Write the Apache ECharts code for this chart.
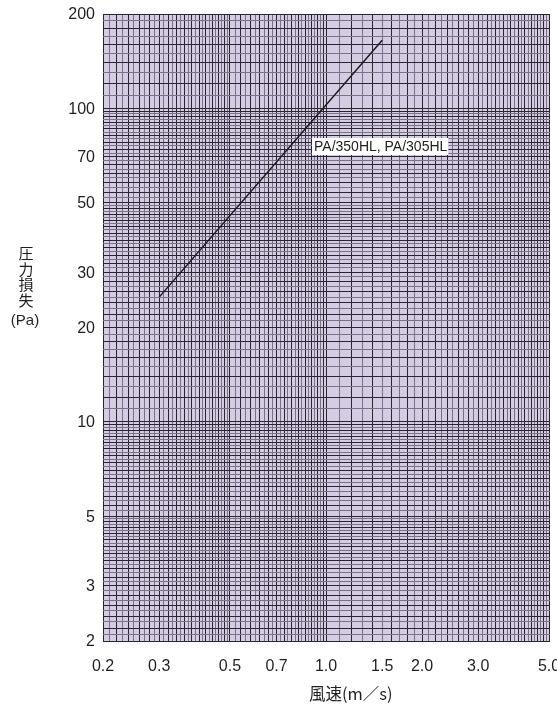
<!DOCTYPE html>
<html>
<head>
<meta charset="utf-8">
<script src="https://cdn.jsdelivr.net/npm/echarts@6/dist/echarts.min.js"></script>
<style>
  html, body { margin: 0; padding: 0; background: #ffffff; }
  #chart { width: 557px; height: 708px; }
</style>
</head>
<body>
<div id="chart"></div>
<script>
// Pressure loss vs. air velocity (log-log)
const velocity = [0.3, 1.5];          // 風速 (m/s)
const pressureLoss = [25, 165];       // 圧力損失 (Pa)
const seriesName = 'PA/350HL, PA/305HL';

const xTicks = [0.2, 0.3, 0.5, 0.7, 1.0, 1.5, 2.0, 3.0, 5.0];
const xTickLabels = ['0.2', '0.3', '0.5', '0.7', '1.0', '1.5', '2.0', '3.0', '5.0'];
const yTicks = [2, 3, 5, 10, 20, 30, 50, 70, 100, 200];
const yTickLabels = ['2', '3', '5', '10', '20', '30', '50', '70', '100', '200'];

const xRange = [0.2, 5.0];
const yRange = [2, 200];

// Log-paper rulings within one decade, in tenths: [from, to, step]
const rulings = [[10, 50, 1], [50, 100, 2]];

function paperLines(lo, hi) {
  const lines = [];
  const e0 = Math.floor(Math.log10(lo) + 1e-9);
  const e1 = Math.ceil(Math.log10(hi) - 1e-9);
  for (let e = e0; e <= e1; e++) {
    const d = Math.pow(10, e);
    let idx = 0;
    for (const [a, b, s] of rulings) {
      for (let r = a; r < b; r += s) {
        const v = r / 10 * d;
        if (v >= lo - 1e-9 && v <= hi + 1e-9) {
          lines.push({ v: v, dark: idx % 2 === 0 });
        }
        idx++;
      }
    }
  }
  lines.push({ v: hi, dark: true });
  return lines;
}

const xLines = paperLines(xRange[0], xRange[1]);
const yLines = paperLines(yRange[0], yRange[1]);

const DARK = '#2a2530';
const LIGHT = '#7a7386';
const TEXT = '#231f20';
const FONT = '"Liberation Sans", Arial, sans-serif';

const chart = echarts.init(document.getElementById('chart'), null, { renderer: 'canvas' });

function crisp(p) { return Math.round(p - 0.5) + 0.5; }

chart.setOption({
  animation: false,
  backgroundColor: '#ffffff',
  grid: { left: 103, right: 8, top: 14, bottom: 67, show: true, backgroundColor: '#d3cce3', borderWidth: 0 },
  xAxis: {
    type: 'log', logBase: 10, min: xRange[0], max: xRange[1],
    axisLine: { show: false }, axisTick: { show: false }, axisLabel: { show: false },
    splitLine: { show: false }, minorSplitLine: { show: false }
  },
  yAxis: {
    type: 'log', logBase: 10, min: yRange[0], max: yRange[1],
    axisLine: { show: false }, axisTick: { show: false }, axisLabel: { show: false },
    splitLine: { show: false }, minorSplitLine: { show: false }
  },
  series: [
    {
      // graph-paper rulings and tick labels
      type: 'custom',
      silent: true,
      z: 1,
      data: [[1, 10]],
      renderItem: function (params, api) {
        const children = [];
        const left = api.coord([xRange[0], yRange[0]])[0];
        const right = api.coord([xRange[1], yRange[0]])[0];
        const bottom = api.coord([xRange[0], yRange[0]])[1];
        const top = api.coord([xRange[0], yRange[1]])[1];
        const order = (arr) => arr.filter(l => !l.dark).concat(arr.filter(l => l.dark));
        order(xLines).forEach(function (l) {
          const x = crisp(api.coord([l.v, yRange[0]])[0]);
          children.push({
            type: 'line',
            shape: { x1: x, y1: Math.round(top), x2: x, y2: Math.round(bottom) + 1 },
            style: { stroke: l.dark ? DARK : LIGHT, lineWidth: 1 }
          });
        });
        order(yLines).forEach(function (l) {
          const y = crisp(api.coord([xRange[0], l.v])[1]);
          children.push({
            type: 'line',
            shape: { x1: Math.round(left), y1: y, x2: Math.round(right) + 1, y2: y },
            style: { stroke: l.dark ? DARK : LIGHT, lineWidth: 1 }
          });
        });
        xTicks.forEach(function (v, i) {
          const x = api.coord([v, yRange[0]])[0];
          children.push({
            type: 'text',
            style: { text: xTickLabels[i], x: x, y: bottom + 26, align: 'center', verticalAlign: 'middle',
                     font: '16px ' + FONT, fill: TEXT }
          });
        });
        yTicks.forEach(function (v, i) {
          const y = api.coord([xRange[0], v])[1];
          children.push({
            type: 'text',
            style: { text: yTickLabels[i], x: left - 8, y: y + 1, align: 'right', verticalAlign: 'middle',
                     font: '16px ' + FONT, fill: TEXT }
          });
        });
        return { type: 'group', children: children };
      }
    },
    {
      name: seriesName,
      type: 'line',
      z: 5,
      symbol: 'none',
      lineStyle: { color: '#1c1a1e', width: 1.5 },
      data: velocity.map((v, i) => [v, pressureLoss[i]])
    }
  ],
  graphic: [
    {
      type: 'text', left: 312, top: 138, z: 10,
      style: { text: seriesName, font: '14px ' + FONT, fill: TEXT,
               backgroundColor: '#ffffff', padding: [2, 1, 1, 2] }
    },
    {
      type: 'text', left: 309, top: 685, z: 10,
      style: { text: '風速(m／s)', font: '16.5px "Noto Sans CJK JP", sans-serif', fill: TEXT }
    },
    {
      type: 'text', x: 26, y: 246, z: 10,
      style: { text: '圧\n力\n損\n失', font: '15px "Noto Sans CJK JP", sans-serif', fill: TEXT,
               align: 'center', lineHeight: 15.5 }
    },
    {
      type: 'text', x: 25, y: 313, z: 10,
      style: { text: '(Pa)', font: '15px ' + FONT, fill: TEXT, align: 'center' }
    }
  ]
});
</script>
</body>
</html>
